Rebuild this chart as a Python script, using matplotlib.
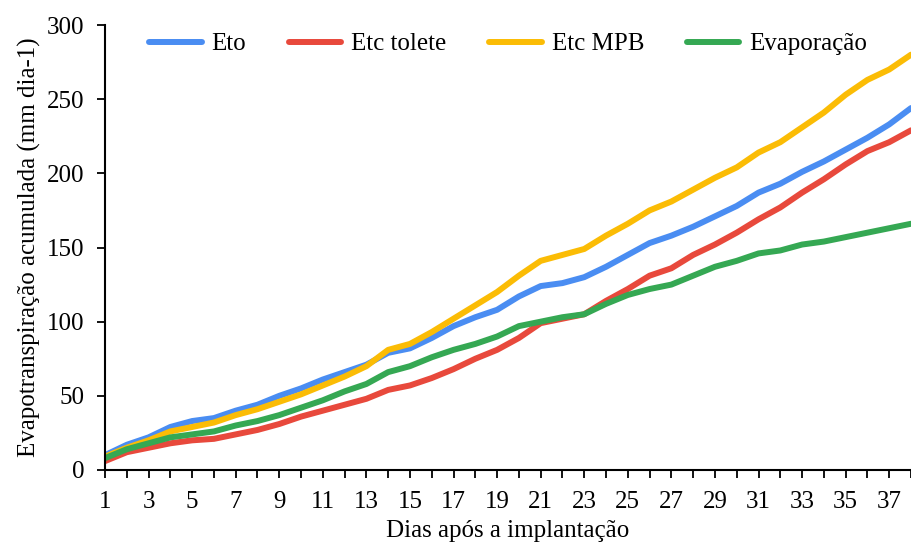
import matplotlib
matplotlib.use("Agg")
import matplotlib.pyplot as plt
import numpy as np

dias = list(range(1, 39))
eto = [10, 17, 22, 29, 33, 35, 40, 44, 50, 55, 61, 66, 71, 79, 82, 89, 97, 103, 108, 117,
       124, 126, 130, 137, 145, 153, 158, 164, 171, 178, 187, 193, 201, 208, 216, 224, 233, 244]
etc_tolete = [6, 12, 15, 18, 20, 21, 24, 27, 31, 36, 40, 44, 48, 54, 57, 62, 68, 75, 81, 89,
              99, 102, 105, 114, 122, 131, 136, 145, 152, 160, 169, 177, 187, 196, 206, 215, 221, 229]
etc_mpb = [9, 15, 20, 26, 29, 32, 37, 41, 46, 51, 57, 63, 70, 81, 85, 93, 102, 111, 120, 131,
           141, 145, 149, 158, 166, 175, 181, 189, 197, 204, 214, 221, 231, 241, 253, 263, 270, 280]
evaporacao = [8, 14, 18, 22, 24, 26, 30, 33, 37, 42, 47, 53, 58, 66, 70, 76, 81, 85, 90, 97,
              100, 103, 105, 112, 118, 122, 125, 131, 137, 141, 146, 148, 152, 154, 157, 160, 163, 166]

series = [("Eto", eto, "#4a8df2"),
          ("Etc tolete", etc_tolete, "#e8493c"),
          ("Etc MPB", etc_mpb, "#fbbc05"),
          ("Evaporação", evaporacao, "#35a853")]

plt.rcParams['font.family'] = ['Liberation Serif', 'DejaVu Serif']

fig = plt.figure(figsize=(9.11, 5.43), dpi=100)
ax = fig.add_axes([105/911, (543-470)/543, 1 - 105/911, (470-25)/543])

for name, vals, col in series:
    ax.plot(dias, vals, color=col, lw=4.3, label=name, solid_capstyle='round', solid_joinstyle='round')

ax.set_xlim(1, 38)
ax.set_ylim(0, 300)
ax.set_yticks(range(0, 301, 50))
ax.set_xticks(range(1, 38, 2))
ax.set_xticks(range(1, 39), minor=True)
ax.tick_params(axis='both', which='both', direction='out', width=1.3, labelsize=18, colors='black')
ax.tick_params(axis='x', which='both', length=6, pad=9)
ax.tick_params(axis='y', length=6, pad=9)
ax.spines['top'].set_visible(False)
ax.spines['right'].set_visible(False)
for s in ['left', 'bottom']:
    ax.spines[s].set_linewidth(1.5)

ax.set_xlabel("Dias após a implantação", fontsize=18, labelpad=5)
ax.set_ylabel("Evapotranspiração acumulada (mm dia-1)", fontsize=18, labelpad=4)

leg = ax.legend(loc='center', bbox_to_anchor=(0.5, 1 - 19/445), ncol=4, frameon=False,
                fontsize=18, handlelength=2.1, handletextpad=0.4, columnspacing=1.7,
                borderaxespad=0, borderpad=0)

fig.savefig("out.png", dpi=100)
